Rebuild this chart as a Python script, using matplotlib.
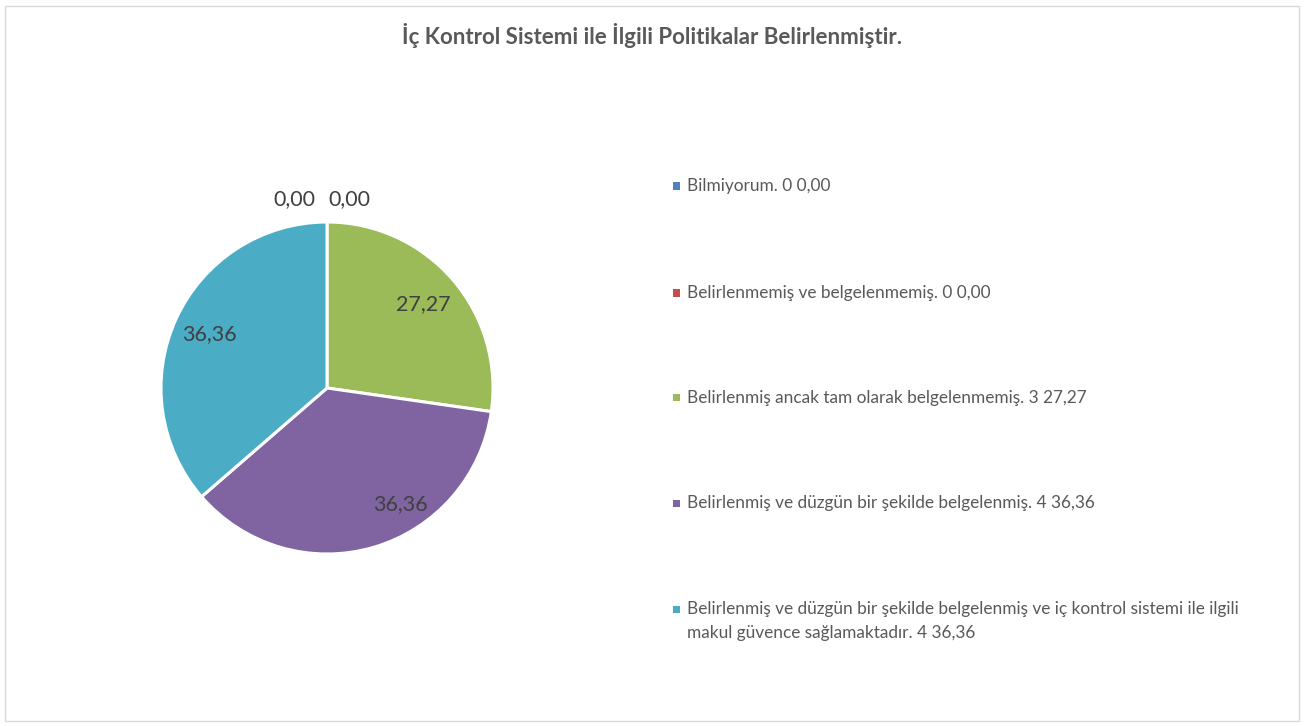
import numpy as np
import matplotlib
matplotlib.use("Agg")
import matplotlib.pyplot as plt
from matplotlib.patches import Rectangle

plt.rcParams['font.family'] = ['Lato', 'DejaVu Sans']

title = "İç Kontrol Sistemi ile İlgili Politikalar Belirlenmiştir."
categories = [
    "Bilmiyorum.",
    "Belirlenmemiş ve belgelenmemiş.",
    "Belirlenmiş ancak tam olarak belgelenmemiş.",
    "Belirlenmiş ve düzgün bir şekilde belgelenmiş.",
    "Belirlenmiş ve düzgün bir şekilde belgelenmiş ve iç kontrol sistemi ile ilgili\nmakul güvence sağlamaktadır.",
]
counts = [0, 0, 3, 4, 4]
percents = [0.00, 0.00, 27.27, 36.36, 36.36]
colors = ["#4F81BD", "#C0504D", "#9BBB59", "#8064A2", "#4BACC6"]

W, H = 1306, 726
fig = plt.figure(figsize=(W / 100, H / 100), dpi=100)

# chart border
fig.add_artist(Rectangle((5 / W, 5 / H), 1294 / W, 715 / H, transform=fig.transFigure,
                         fill=False, edgecolor="#D9D9D9", linewidth=1))

fig.text(652 / W, 1 - 35 / H, title, ha="center", va="center", fontsize=16,
         fontweight="bold", color="#595959")

# pie axes: center (327, 388), radius 166 px
cx, cy, r = 327, 388, 166
ax = fig.add_axes([(cx - r) / W, 1 - (cy + r) / H, 2 * r / W, 2 * r / H])
wedges, _ = ax.pie(percents, colors=colors, startangle=90, counterclock=False,
                   wedgeprops=dict(edgecolor="white", linewidth=2.2))
ax.set_xlim(-1, 1)
ax.set_ylim(-1, 1)
ax.set_aspect("equal")
ax.axis("off")

# data labels
label_r = [1.14, 1.14, 0.77, 0.83, 0.78]
label_shift = [0, 0, 0, 16, 0]
zero_dx = [-0.195, 0.135]
zi = 0
for i, w in enumerate(wedges):
    txt = f"{percents[i]:.2f}".replace(".", ",")
    if counts[i] == 0:
        x, y = zero_dx[zi], label_r[i]
        zi += 1
    else:
        ang = np.deg2rad((w.theta1 + w.theta2) / 2 + label_shift[i])
        x, y = label_r[i] * np.cos(ang), label_r[i] * np.sin(ang)
    ax.text(x, y, txt, ha="center", va="center", fontsize=15.5, color="#404040",
            clip_on=False)

# legend
leg_y = [186, 293, 398, 503, 609]
line_step = 24
for i, cat in enumerate(categories):
    y0 = leg_y[i]
    fig.add_artist(Rectangle((673 / W, 1 - (y0 + 3.5) / H), 7 / W, 7 / H,
                             transform=fig.transFigure,
                             facecolor=colors[i], edgecolor="none"))
    full = f"{cat} {counts[i]} " + f"{percents[i]:.2f}".replace(".", ",")
    for k, line in enumerate(full.split("\n")):
        fig.text(687 / W, 1 - (y0 + k * line_step) / H, line, ha="left", va="center",
                 fontsize=12.4, color="#595959")

fig.savefig("out.png", dpi=100, facecolor="white")
